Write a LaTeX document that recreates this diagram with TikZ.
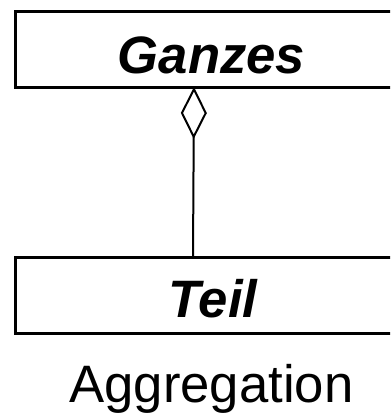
\documentclass[tikz,border=0pt]{standalone}
\usepackage{fontspec}
\setmainfont{Liberation Sans}
\usetikzlibrary{arrows.meta}
\begin{document}
\begin{tikzpicture}[x=0.75pt,y=-0.75pt,
  classbox/.style={draw,line width=2.25pt,rectangle,inner sep=0pt,minimum width=399pt,minimum height=57pt},
  classname/.style={anchor=base,font=\fontsize{39.5}{42}\selectfont\bfseries\itshape,inner sep=0pt},
  caption/.style={anchor=base,font=\fontsize{39.5}{42}\selectfont,inner sep=0pt}]
\useasboundingbox (0,0) rectangle (390,414);
\clip (0,0) rectangle (390,414);
\node[classbox] (ganzes) at (281,49) {};
\node[classbox] (teil) at (281,295) {};
\node[classname] (gtext) at (211.5,73) {Ganzes};
\node[classname] (ttext) at (213,317) {Teil};
\node[caption] (cap) at (211.5,402) {Aggregation};
\coordinate (dtop) at (194,87);
\coordinate (lbot) at (193,256);
\draw[line width=1.5pt,-{Diamond[open,length=39pt,width=19.5pt,line width=1.5pt]}] (lbot) -- (dtop);
\end{tikzpicture}
\end{document}
